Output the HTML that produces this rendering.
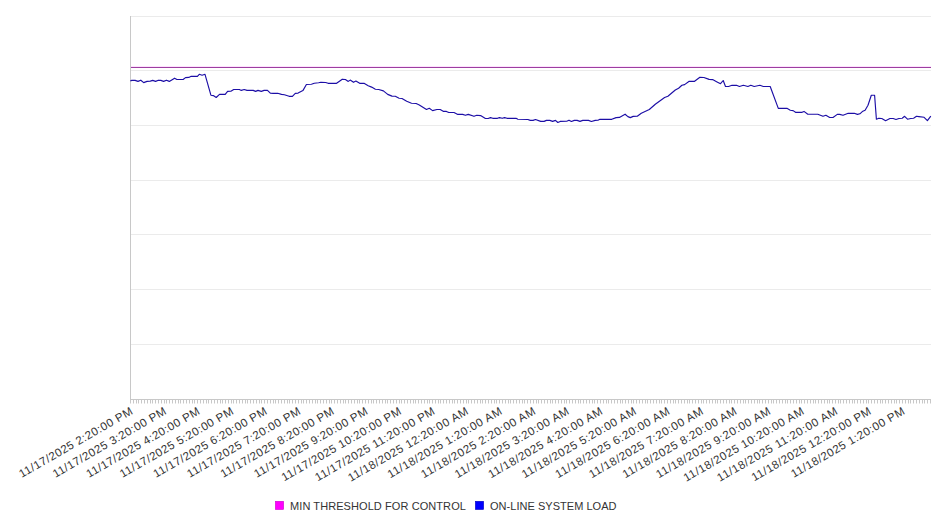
<!DOCTYPE html>
<html><head><meta charset="utf-8"><style>
html,body{margin:0;padding:0;background:#fff;}
svg{display:block;}
text{font-family:"Liberation Sans",sans-serif;font-size:11.5px;fill:#333;}
</style></head><body>
<svg width="946" height="526" viewBox="0 0 946 526">
<rect width="946" height="526" fill="#fff"/>
<line x1="130" y1="16.50" x2="931" y2="16.50" stroke="#ebebeb" stroke-width="1"/>
<line x1="130" y1="70.50" x2="931" y2="70.50" stroke="#ebebeb" stroke-width="1"/>
<line x1="130" y1="125.50" x2="931" y2="125.50" stroke="#ebebeb" stroke-width="1"/>
<line x1="130" y1="180.50" x2="931" y2="180.50" stroke="#ebebeb" stroke-width="1"/>
<line x1="130" y1="234.50" x2="931" y2="234.50" stroke="#ebebeb" stroke-width="1"/>
<line x1="130" y1="289.50" x2="931" y2="289.50" stroke="#ebebeb" stroke-width="1"/>
<line x1="130" y1="344.50" x2="931" y2="344.50" stroke="#ebebeb" stroke-width="1"/>
<line x1="130" y1="399.50" x2="931" y2="399.50" stroke="#ebebeb" stroke-width="1"/>

<line x1="130.5" y1="16" x2="130.5" y2="399.5" stroke="#c8c8c8" stroke-width="1"/>
<line x1="130" y1="399.5" x2="931" y2="399.5" stroke="#c8c8c8" stroke-width="1"/>
<path d="M130.5 399V403.5 M133.5 399V403.5 M136.5 399V403.5 M138.5 399V403.5 M141.5 399V403.5 M144.5 399V403.5 M147.5 399V403.5 M150.5 399V403.5 M152.5 399V403.5 M155.5 399V403.5 M158.5 399V403.5 M161.5 399V403.5 M164.5 399V403.5 M166.5 399V403.5 M169.5 399V403.5 M172.5 399V403.5 M175.5 399V403.5 M178.5 399V403.5 M180.5 399V403.5 M183.5 399V403.5 M186.5 399V403.5 M189.5 399V403.5 M192.5 399V403.5 M194.5 399V403.5 M197.5 399V403.5 M200.5 399V403.5 M203.5 399V403.5 M206.5 399V403.5 M208.5 399V403.5 M211.5 399V403.5 M214.5 399V403.5 M217.5 399V403.5 M220.5 399V403.5 M222.5 399V403.5 M225.5 399V403.5 M228.5 399V403.5 M231.5 399V403.5 M233.5 399V403.5 M236.5 399V403.5 M239.5 399V403.5 M242.5 399V403.5 M245.5 399V403.5 M247.5 399V403.5 M250.5 399V403.5 M253.5 399V403.5 M256.5 399V403.5 M259.5 399V403.5 M261.5 399V403.5 M264.5 399V403.5 M267.5 399V403.5 M270.5 399V403.5 M273.5 399V403.5 M275.5 399V403.5 M278.5 399V403.5 M281.5 399V403.5 M284.5 399V403.5 M287.5 399V403.5 M289.5 399V403.5 M292.5 399V403.5 M295.5 399V403.5 M298.5 399V403.5 M301.5 399V403.5 M303.5 399V403.5 M306.5 399V403.5 M309.5 399V403.5 M312.5 399V403.5 M315.5 399V403.5 M317.5 399V403.5 M320.5 399V403.5 M323.5 399V403.5 M326.5 399V403.5 M329.5 399V403.5 M331.5 399V403.5 M334.5 399V403.5 M337.5 399V403.5 M340.5 399V403.5 M343.5 399V403.5 M345.5 399V403.5 M348.5 399V403.5 M351.5 399V403.5 M354.5 399V403.5 M357.5 399V403.5 M359.5 399V403.5 M362.5 399V403.5 M365.5 399V403.5 M368.5 399V403.5 M371.5 399V403.5 M373.5 399V403.5 M376.5 399V403.5 M379.5 399V403.5 M382.5 399V403.5 M385.5 399V403.5 M387.5 399V403.5 M390.5 399V403.5 M393.5 399V403.5 M396.5 399V403.5 M399.5 399V403.5 M401.5 399V403.5 M404.5 399V403.5 M407.5 399V403.5 M410.5 399V403.5 M413.5 399V403.5 M415.5 399V403.5 M418.5 399V403.5 M421.5 399V403.5 M424.5 399V403.5 M427.5 399V403.5 M429.5 399V403.5 M432.5 399V403.5 M435.5 399V403.5 M438.5 399V403.5 M440.5 399V403.5 M443.5 399V403.5 M446.5 399V403.5 M449.5 399V403.5 M452.5 399V403.5 M454.5 399V403.5 M457.5 399V403.5 M460.5 399V403.5 M463.5 399V403.5 M466.5 399V403.5 M468.5 399V403.5 M471.5 399V403.5 M474.5 399V403.5 M477.5 399V403.5 M480.5 399V403.5 M482.5 399V403.5 M485.5 399V403.5 M488.5 399V403.5 M491.5 399V403.5 M494.5 399V403.5 M496.5 399V403.5 M499.5 399V403.5 M502.5 399V403.5 M505.5 399V403.5 M508.5 399V403.5 M510.5 399V403.5 M513.5 399V403.5 M516.5 399V403.5 M519.5 399V403.5 M522.5 399V403.5 M524.5 399V403.5 M527.5 399V403.5 M530.5 399V403.5 M533.5 399V403.5 M536.5 399V403.5 M538.5 399V403.5 M541.5 399V403.5 M544.5 399V403.5 M547.5 399V403.5 M550.5 399V403.5 M552.5 399V403.5 M555.5 399V403.5 M558.5 399V403.5 M561.5 399V403.5 M564.5 399V403.5 M566.5 399V403.5 M569.5 399V403.5 M572.5 399V403.5 M575.5 399V403.5 M578.5 399V403.5 M580.5 399V403.5 M583.5 399V403.5 M586.5 399V403.5 M589.5 399V403.5 M592.5 399V403.5 M594.5 399V403.5 M597.5 399V403.5 M600.5 399V403.5 M603.5 399V403.5 M606.5 399V403.5 M608.5 399V403.5 M611.5 399V403.5 M614.5 399V403.5 M617.5 399V403.5 M620.5 399V403.5 M622.5 399V403.5 M625.5 399V403.5 M628.5 399V403.5 M631.5 399V403.5 M633.5 399V403.5 M636.5 399V403.5 M639.5 399V403.5 M642.5 399V403.5 M645.5 399V403.5 M647.5 399V403.5 M650.5 399V403.5 M653.5 399V403.5 M656.5 399V403.5 M659.5 399V403.5 M661.5 399V403.5 M664.5 399V403.5 M667.5 399V403.5 M670.5 399V403.5 M673.5 399V403.5 M675.5 399V403.5 M678.5 399V403.5 M681.5 399V403.5 M684.5 399V403.5 M687.5 399V403.5 M689.5 399V403.5 M692.5 399V403.5 M695.5 399V403.5 M698.5 399V403.5 M701.5 399V403.5 M703.5 399V403.5 M706.5 399V403.5 M709.5 399V403.5 M712.5 399V403.5 M715.5 399V403.5 M717.5 399V403.5 M720.5 399V403.5 M723.5 399V403.5 M726.5 399V403.5 M729.5 399V403.5 M731.5 399V403.5 M734.5 399V403.5 M737.5 399V403.5 M740.5 399V403.5 M743.5 399V403.5 M745.5 399V403.5 M748.5 399V403.5 M751.5 399V403.5 M754.5 399V403.5 M757.5 399V403.5 M759.5 399V403.5 M762.5 399V403.5 M765.5 399V403.5 M768.5 399V403.5 M771.5 399V403.5 M773.5 399V403.5 M776.5 399V403.5 M779.5 399V403.5 M782.5 399V403.5 M785.5 399V403.5 M787.5 399V403.5 M790.5 399V403.5 M793.5 399V403.5 M796.5 399V403.5 M799.5 399V403.5 M801.5 399V403.5 M804.5 399V403.5 M807.5 399V403.5 M810.5 399V403.5 M813.5 399V403.5 M815.5 399V403.5 M818.5 399V403.5 M821.5 399V403.5 M824.5 399V403.5 M827.5 399V403.5 M829.5 399V403.5 M832.5 399V403.5 M835.5 399V403.5 M838.5 399V403.5 M840.5 399V403.5 M843.5 399V403.5 M846.5 399V403.5 M849.5 399V403.5 M852.5 399V403.5 M854.5 399V403.5 M857.5 399V403.5 M860.5 399V403.5 M863.5 399V403.5 M866.5 399V403.5 M868.5 399V403.5 M871.5 399V403.5 M874.5 399V403.5 M877.5 399V403.5 M880.5 399V403.5 M882.5 399V403.5 M885.5 399V403.5 M888.5 399V403.5 M891.5 399V403.5 M894.5 399V403.5 M896.5 399V403.5 M899.5 399V403.5 M902.5 399V403.5 M905.5 399V403.5 M908.5 399V403.5 M910.5 399V403.5 M913.5 399V403.5 M916.5 399V403.5 M919.5 399V403.5 M922.5 399V403.5 M924.5 399V403.5 M927.5 399V403.5 M930.5 399V403.5" stroke="#c8c8c8" stroke-width="1" fill="none"/>
<line x1="131" y1="66.5" x2="931" y2="66.5" stroke="#ffe0ff" stroke-width="1"/>
<line x1="131" y1="67.5" x2="931" y2="67.5" stroke="#9c3fa0" stroke-width="1"/>
<polyline points="130.4,80.9 131.8,80.4 135.1,80.4 138.0,81.4 140.8,80.2 143.7,82.6 147.0,81.4 150.3,81.1 152.7,80.4 155.6,81.4 158.4,80.2 160.8,80.4 163.6,81.4 166.5,80.2 169.3,81.4 174.6,78.2 176.9,79.5 183.1,79.5 185.5,77.6 188.8,77.4 191.2,76.3 197.4,76.3 199.3,74.3 202.1,75.2 205.0,74.3 210.9,95.2 213.3,95.6 216.2,97.5 219.5,94.4 225.2,94.4 227.6,91.4 230.9,91.2 233.7,89.5 239.4,89.5 241.3,90.4 244.2,89.5 247.0,90.4 253.2,90.4 255.6,91.4 258.0,90.4 261.3,91.4 264.1,90.4 267.5,90.4 270.3,93.1 273.2,93.4 277.7,93.3 281.5,94.4 284.4,94.7 289.1,96.3 292.4,96.3 295.3,93.4 298.1,93.1 302.9,90.6 306.4,84.5 311.4,84.2 314.3,83.3 318.6,82.8 320.9,82.3 325.7,82.5 328.1,83.3 336.6,83.3 342.3,79.2 345.4,79.5 348.3,81.4 350.2,80.1 353.5,82.3 355.9,81.1 359.7,83.3 364.0,83.3 368.2,85.7 371.6,87.1 375.4,89.3 378.7,89.5 383.4,90.9 387.7,94.4 392.0,96.1 395.3,96.3 399.1,98.2 402.0,98.5 406.7,101.3 411.5,103.2 416.2,103.5 419.3,104.9 426.5,109.5 429.3,108.3 432.6,110.6 436.9,109.5 440.2,109.5 443.6,111.4 446.4,111.4 448.8,112.5 454.0,112.5 457.8,114.4 462.6,114.4 465.4,115.3 468.3,114.4 474.0,116.3 476.8,115.3 480.6,115.6 485.4,118.5 488.2,118.5 490.5,117.6 492.8,118.3 497.5,118.3 499.4,117.6 502.3,118.3 504.6,117.6 507.0,118.3 516.0,118.3 517.9,119.3 527.9,119.5 530.3,120.4 533.1,120.4 535.5,119.5 540.7,121.4 544.1,121.4 546.4,120.4 549.8,120.4 552.6,121.4 555.5,120.4 557.8,122.5 560.2,121.4 566.7,121.2 569.0,120.2 571.4,121.5 574.3,120.4 577.1,120.4 580.0,121.4 582.8,120.4 588.5,120.4 591.4,121.5 595.2,120.4 598.0,120.2 599.9,119.3 611.8,119.3 616.1,117.6 619.4,117.4 625.1,114.2 627.9,116.6 630.3,117.6 633.2,116.4 637.3,116.2 641.3,113.2 649.3,109.5 655.3,104.2 664.6,97.5 667.9,96.2 675.3,90.0 678.6,88.2 681.9,85.3 684.6,84.6 689.2,81.3 694.6,81.3 699.9,77.3 703.9,77.5 709.1,79.4 712.6,79.6 716.6,81.7 720.5,83.7 723.2,80.5 725.5,86.5 728.5,86.5 732.0,85.3 736.5,85.3 739.4,86.5 743.4,85.3 747.9,86.5 750.8,85.3 754.2,86.5 759.9,85.3 763.3,86.5 770.2,86.5 778.3,108.4 786.9,108.3 790.3,110.2 793.1,110.6 795.5,112.3 802.1,112.3 804.0,111.4 807.8,114.2 817.8,114.2 823.0,116.3 825.9,115.3 829.7,117.5 833.0,117.5 837.3,114.4 839.7,114.4 843.0,115.3 848.2,113.3 854.2,113.3 857.5,114.4 859.9,113.8 862.3,111.6 865.1,110.3 868.0,105.2 871.3,95.2 874.6,95.2 876.4,119.2 878.9,118.2 881.8,118.5 885.6,120.7 889.9,118.5 893.2,118.5 896.0,119.5 898.9,118.5 902.2,118.2 904.6,116.3 907.5,119.2 910.8,118.5 913.6,118.2 916.5,116.3 918.9,116.6 924.1,117.3 927.4,120.7 930.8,116.2" fill="none" stroke="#1c0ea6" stroke-width="1.15" stroke-linejoin="round"/>
<g>
<text x="133.50" y="413.5" transform="rotate(-30 133.50 413.5)" text-anchor="end" textLength="128.94" lengthAdjust="spacing">11/17/2025 2:20:00 PM</text>
<text x="167.07" y="413.5" transform="rotate(-30 167.07 413.5)" text-anchor="end" textLength="128.94" lengthAdjust="spacing">11/17/2025 3:20:00 PM</text>
<text x="200.63" y="413.5" transform="rotate(-30 200.63 413.5)" text-anchor="end" textLength="128.94" lengthAdjust="spacing">11/17/2025 4:20:00 PM</text>
<text x="234.20" y="413.5" transform="rotate(-30 234.20 413.5)" text-anchor="end" textLength="128.94" lengthAdjust="spacing">11/17/2025 5:20:00 PM</text>
<text x="267.76" y="413.5" transform="rotate(-30 267.76 413.5)" text-anchor="end" textLength="128.94" lengthAdjust="spacing">11/17/2025 6:20:00 PM</text>
<text x="301.33" y="413.5" transform="rotate(-30 301.33 413.5)" text-anchor="end" textLength="128.94" lengthAdjust="spacing">11/17/2025 7:20:00 PM</text>
<text x="334.89" y="413.5" transform="rotate(-30 334.89 413.5)" text-anchor="end" textLength="128.94" lengthAdjust="spacing">11/17/2025 8:20:00 PM</text>
<text x="368.46" y="413.5" transform="rotate(-30 368.46 413.5)" text-anchor="end" textLength="128.94" lengthAdjust="spacing">11/17/2025 9:20:00 PM</text>
<text x="402.02" y="413.5" transform="rotate(-30 402.02 413.5)" text-anchor="end" textLength="135.94" lengthAdjust="spacing">11/17/2025 10:20:00 PM</text>
<text x="435.59" y="413.5" transform="rotate(-30 435.59 413.5)" text-anchor="end" textLength="135.94" lengthAdjust="spacing">11/17/2025 11:20:00 PM</text>
<text x="469.15" y="413.5" transform="rotate(-30 469.15 413.5)" text-anchor="end" textLength="136.83" lengthAdjust="spacing">11/18/2025 12:20:00 AM</text>
<text x="502.72" y="413.5" transform="rotate(-30 502.72 413.5)" text-anchor="end" textLength="129.83" lengthAdjust="spacing">11/18/2025 1:20:00 AM</text>
<text x="536.28" y="413.5" transform="rotate(-30 536.28 413.5)" text-anchor="end" textLength="129.83" lengthAdjust="spacing">11/18/2025 2:20:00 AM</text>
<text x="569.85" y="413.5" transform="rotate(-30 569.85 413.5)" text-anchor="end" textLength="129.83" lengthAdjust="spacing">11/18/2025 3:20:00 AM</text>
<text x="603.41" y="413.5" transform="rotate(-30 603.41 413.5)" text-anchor="end" textLength="129.83" lengthAdjust="spacing">11/18/2025 4:20:00 AM</text>
<text x="636.98" y="413.5" transform="rotate(-30 636.98 413.5)" text-anchor="end" textLength="129.83" lengthAdjust="spacing">11/18/2025 5:20:00 AM</text>
<text x="670.54" y="413.5" transform="rotate(-30 670.54 413.5)" text-anchor="end" textLength="129.83" lengthAdjust="spacing">11/18/2025 6:20:00 AM</text>
<text x="704.11" y="413.5" transform="rotate(-30 704.11 413.5)" text-anchor="end" textLength="129.83" lengthAdjust="spacing">11/18/2025 7:20:00 AM</text>
<text x="737.67" y="413.5" transform="rotate(-30 737.67 413.5)" text-anchor="end" textLength="129.83" lengthAdjust="spacing">11/18/2025 8:20:00 AM</text>
<text x="771.24" y="413.5" transform="rotate(-30 771.24 413.5)" text-anchor="end" textLength="129.83" lengthAdjust="spacing">11/18/2025 9:20:00 AM</text>
<text x="804.80" y="413.5" transform="rotate(-30 804.80 413.5)" text-anchor="end" textLength="136.83" lengthAdjust="spacing">11/18/2025 10:20:00 AM</text>
<text x="838.37" y="413.5" transform="rotate(-30 838.37 413.5)" text-anchor="end" textLength="136.83" lengthAdjust="spacing">11/18/2025 11:20:00 AM</text>
<text x="871.93" y="413.5" transform="rotate(-30 871.93 413.5)" text-anchor="end" textLength="135.94" lengthAdjust="spacing">11/18/2025 12:20:00 PM</text>
<text x="905.50" y="413.5" transform="rotate(-30 905.50 413.5)" text-anchor="end" textLength="128.94" lengthAdjust="spacing">11/18/2025 1:20:00 PM</text>
</g>
<rect x="275.4" y="501.3" width="8.2" height="8.2" fill="#ff00ff" stroke="#d000d0" stroke-width="0.6"/>
<text x="290" y="509.6" style="font-size:11px" textLength="175.9" lengthAdjust="spacing">MIN THRESHOLD FOR CONTROL</text>
<rect x="475.4" y="501.3" width="8.2" height="8.2" fill="#0000ff" stroke="#0000c0" stroke-width="0.6"/>
<text x="490" y="509.6" style="font-size:11px" textLength="126.5" lengthAdjust="spacing">ON-LINE SYSTEM LOAD</text>
</svg>
</body></html>
